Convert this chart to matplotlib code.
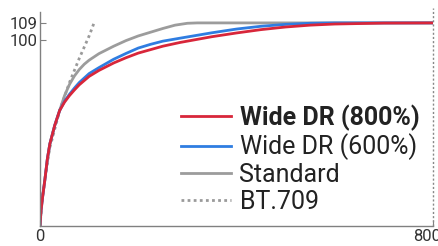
import matplotlib
matplotlib.use("Agg")
import matplotlib.pyplot as plt
import matplotlib.transforms as mtransforms

# -------------------------
# DATA
# -------------------------

x_std = [0, 2, 5, 10, 15, 20, 30, 40, 50, 60, 70, 80, 90, 100, 120, 150, 175,
         200, 225, 250, 275, 300, 320, 800]
y_std = [0, 8, 15, 25, 36, 44, 54, 62, 70, 76, 80.5, 84, 86.8, 89, 92.5, 96.5,
         99.5, 102, 104, 106, 107.8, 108.8, 109, 109]

x_600 = [0, 2, 5, 10, 15, 20, 30, 40, 50, 60, 70, 80, 100, 120, 150, 175, 200,
         225, 250, 285, 350, 400, 450, 500, 550, 600, 800]
y_600 = [0, 8, 15, 25, 36, 44, 54, 62, 67, 70.7, 74, 77, 81.8, 85, 89.5, 92.6,
         95.5, 97.5, 99.2, 100.8, 103.7, 105.7, 107.2, 108.2, 108.8, 109, 109]

x_800 = [0, 2, 5, 10, 15, 20, 30, 40, 50, 60, 70, 80, 100, 120, 150, 175, 200,
         250, 285, 350, 400, 450, 500, 550, 600, 700, 800]
y_800 = [0, 8, 15, 25, 36, 44, 54, 62, 66.5, 70, 73, 75.8, 80.3, 83.5, 87.5,
         90.3, 92.8, 96.5, 98.5, 101.6, 103.6, 105.4, 106.8, 107.8, 108.4,
         108.9, 109]

x_709 = [0, 5, 10, 20, 40, 60, 80, 100, 110]
y_709 = [0, 16, 25, 42, 62, 77, 90, 102, 109]

labels = ["Wide DR (800%)", "Wide DR (600%)", "Standard", "BT.709"]
xticks = [0, 800]
yticks = [100, 109]

# -------------------------
# PLOT
# -------------------------

FONT = ["Roboto", "DejaVu Sans"]

fig = plt.figure(figsize=(4.38, 2.46), dpi=100)
ax = fig.add_axes([40 / 438, 20 / 246, 393 / 438, 218 / 246])

l709, = ax.plot(x_709, y_709, color="#9a9a9a", lw=2, ls=(0, (1, 1.2)))
lstd, = ax.plot(x_std, y_std, color="#9c9c9c", lw=2)
l600, = ax.plot(x_600, y_600, color="#2f7de1", lw=2)
l800, = ax.plot(x_800, y_800, color="#d8263a", lw=2)

ax.axvline(800, color="#888888", lw=1, ls=(0, (1.5, 1.5)), clip_on=False)

ax.set_xlim(0, 800)
ax.set_ylim(0, 117)
ax.spines["top"].set_visible(False)
ax.spines["right"].set_visible(False)
for s in ("left", "bottom"):
    ax.spines[s].set_color("#808080")
    ax.spines[s].set_linewidth(1)
ax.spines["left"].set_bounds(0, 115)

ax.set_xticks(xticks)
ax.set_yticks(yticks)
ax.tick_params(direction="in", length=4, color="#808080", labelcolor="#333333", pad=2)
for t in ax.get_xticklabels() + ax.get_yticklabels():
    t.set_family(FONT)
    t.set_fontsize(12)

# last x label sits a bit left of its tick, as in the source
shift = mtransforms.ScaledTranslation(-6 / 100, 0, fig.dpi_scale_trans)
last = ax.get_xticklabels()[-1]
last.set_transform(last.get_transform() + shift)

leg = ax.legend(
    [l800, l600, lstd, l709], labels,
    loc="upper left", bbox_to_anchor=(128 / 393, 1 - 84 / 218),
    frameon=False, prop={"family": FONT, "size": 18},
    handlelength=2.0, handletextpad=0.36, labelspacing=0.11, borderpad=0,
)
leg.get_texts()[0].set_fontweight("bold")
for t in leg.get_texts():
    t.set_color("#222222")

fig.savefig("out.png", dpi=100)
